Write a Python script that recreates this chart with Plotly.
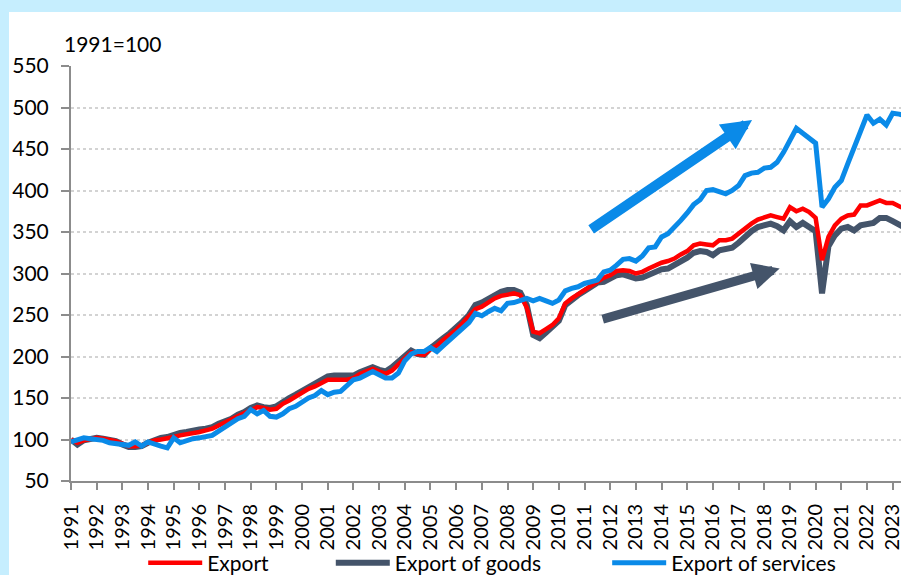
import plotly.graph_objects as go

years = list(range(1991, 2024))
quarters = [f"{y}Q{q}" for y in years for q in range(1, 5)][:131]
year_ticks = [f"{y}Q1" for y in years]
year_labels = [str(y) for y in years]

export = [
    100, 96, 99, 101,    # 1991
    102, 101, 100, 98,   # 1992
    95, 92, 92, 93,      # 1993
    96, 99, 100, 101,    # 1994
    103, 105, 106, 108,  # 1995
    109, 111, 113, 117,  # 1996
    121, 124, 129, 132,  # 1997
    135, 139, 138, 136,  # 1998
    137, 143, 147, 152,  # 1999
    156, 161, 164, 168,  # 2000
    172, 172, 172, 172,  # 2001
    174, 179, 182, 185,  # 2002
    182, 179, 183, 190,  # 2003
    197, 205, 203, 202,  # 2004
    209, 213, 220, 226,  # 2005
    232, 240, 248, 257,  # 2006
    260, 265, 270, 273,  # 2007
    275, 276, 274, 259,  # 2008
    230, 228, 233, 238,  # 2009
    246, 264, 270, 275,  # 2010
    280, 285, 289, 295,  # 2011
    298, 303, 304, 303,  # 2012
    300, 302, 306, 310,  # 2013
    313, 315, 318, 323,  # 2014
    327, 334, 336, 335,  # 2015
    334, 340, 340, 342,  # 2016
    348, 355, 360, 365,  # 2017
    368, 370, 368, 366,  # 2018
    380, 375, 378, 374,  # 2019
    367, 316, 344, 358,  # 2020
    366, 370, 371, 382,  # 2021
    382, 385, 388, 385,  # 2022
    385, 381, 378,       # 2023
]

goods = [
    100, 94, 99, 101,    # 1991
    102, 101, 100, 98,   # 1992
    94, 91, 91, 92,      # 1993
    96, 100, 102, 103,   # 1994
    106, 108, 109, 111,  # 1995
    112, 113, 115, 119,  # 1996
    122, 125, 130, 133,  # 1997
    138, 141, 139, 138,  # 1998
    140, 146, 150, 154,  # 1999
    158, 163, 166, 172,  # 2000
    176, 177, 177, 177,  # 2001
    177, 181, 184, 187,  # 2002
    184, 182, 187, 193,  # 2003
    199, 207, 203, 202,  # 2004
    210, 215, 222, 228,  # 2005
    234, 242, 250, 262,  # 2006
    265, 270, 275, 278,  # 2007
    280, 280, 277, 262,  # 2008
    226, 222, 229, 235,  # 2009
    243, 262, 269, 274,  # 2010
    279, 284, 289, 290,  # 2011
    295, 298, 299, 297,  # 2012
    294, 295, 299, 302,  # 2013
    305, 306, 310, 315,  # 2014
    319, 325, 327, 326,  # 2015
    322, 328, 330, 331,  # 2016
    337, 345, 351, 356,  # 2017
    358, 360, 357, 352,  # 2018
    363, 356, 361, 357,  # 2019
    351, 276, 333, 346,  # 2020
    354, 356, 352, 358,  # 2021
    360, 361, 367, 367,  # 2022
    363, 358, 355,       # 2023
]

services = [
    97, 100, 102, 101,   # 1991
    100, 99, 96, 95,     # 1992
    93, 93, 97, 92,      # 1993
    97, 94, 92, 90,      # 1994
    102, 96, 99, 101,    # 1995
    102, 103, 105, 110,  # 1996
    115, 120, 125, 128,  # 1997
    136, 131, 135, 128,  # 1998
    127, 131, 137, 140,  # 1999
    145, 150, 153, 159,  # 2000
    154, 157, 158, 166,  # 2001
    172, 174, 178, 182,  # 2002
    178, 174, 174, 180,  # 2003
    195, 203, 206, 206,  # 2004
    211, 206, 213, 220,  # 2005
    226, 235, 241, 252,  # 2006
    249, 254, 258, 255,  # 2007
    264, 265, 268, 270,  # 2008
    267, 270, 267, 264,  # 2009
    268, 279, 282, 284,  # 2010
    288, 290, 292, 302,  # 2011
    304, 310, 317, 318,  # 2012
    315, 321, 331, 332,  # 2013
    344, 348, 355, 364,  # 2014
    373, 383, 389, 400,  # 2015
    401, 399, 396, 400,  # 2016
    406, 418, 421, 422,  # 2017
    427, 428, 434, 446,  # 2018
    460, 475, 469, 463,  # 2019
    457, 380, 390, 404,  # 2020
    412, 432, 452, 474,  # 2021
    491, 481, 486, 479,  # 2022
    493, 492, 490,       # 2023
]

names = ["Export", "Export of goods", "Export of services"]
colors = ["#FF0000", "#44546A", "#0A8AE8"]
FONT = "Lato"
FS = 21

fig = go.Figure()
# draw order: goods, export, services
fig.add_trace(go.Scatter(x=quarters, y=goods, name=names[1], mode="lines",
                         line=dict(color=colors[1], width=6), legend="legend2"))
fig.add_trace(go.Scatter(x=quarters, y=export, name=names[0], mode="lines",
                         line=dict(color=colors[0], width=4.5), legend="legend"))
fig.add_trace(go.Scatter(x=quarters, y=services, name=names[2], mode="lines",
                         line=dict(color=colors[2], width=5), legend="legend3"))

leg_common = dict(orientation="h", yanchor="middle", y=-0.198, xanchor="left",
                  bgcolor="rgba(0,0,0,0)", font=dict(family=FONT, size=FS, color="#000"),
                  itemwidth=54, borderwidth=0)
fig.update_layout(
    legend=dict(x=0.087, **leg_common),
    legend2=dict(x=0.313, **leg_common),
    legend3=dict(x=0.646, **leg_common),
)

fig.update_layout(
    width=901, height=575,
    margin=dict(l=71, r=0, t=66, b=94, pad=0, autoexpand=False),
    paper_bgcolor="#C6EEFE",
    plot_bgcolor="white",
    font=dict(family=FONT, size=FS, color="#000"),
    showlegend=True,
    xaxis=dict(type="category", categoryorder="array", categoryarray=quarters,
               range=[0, 129.3], tickmode="array", tickvals=year_ticks, ticktext=year_labels,
               tickangle=-90, ticks="outside", ticklen=7, tickwidth=1.5, tickcolor="#8C8C8C",
               showline=True, linecolor="#8C8C8C", linewidth=2, showgrid=False,
               automargin=False, ticklabelstandoff=6,
               tickfont=dict(family=FONT, size=20, color="#000")),
    yaxis=dict(range=[50, 550], tick0=50, dtick=50, ticks="outside", ticklen=8,
               tickwidth=1.5, tickcolor="#8C8C8C", showline=True, linecolor="#8C8C8C",
               linewidth=2, showgrid=True, gridcolor="#D3D3D3", griddash="dot",
               gridwidth=1.5, zeroline=False, ticklabelstandoff=8, automargin=False,
               tickfont=dict(family=FONT, size=FS, color="#000")),
    shapes=[dict(type="rect", xref="paper", yref="paper", x0=-0.0747, x1=1.01,
                 y0=-0.25, y1=1.130, fillcolor="white", line=dict(width=0), layer="below")],
    annotations=[
        dict(text="1991=100", xref="paper", yref="paper", x=-0.011, y=1.055,
             xanchor="left", yanchor="middle", showarrow=False,
             font=dict(family=FONT, size=FS, color="#000")),
        dict(text="", x=106.1, y=485, xref="x", yref="y", ax=80.8, ay=352,
             axref="x", ayref="y", showarrow=True, arrowhead=2, arrowsize=0.6,
             arrowwidth=10, arrowcolor=colors[2]),
        dict(text="", x=110.4, y=306, xref="x", yref="y", ax=82.6, ay=244.6,
             axref="x", ayref="y", showarrow=True, arrowhead=2, arrowsize=0.6,
             arrowwidth=9, arrowcolor=colors[1]),
    ],
)

fig.write_html("out.html", config={"displayModeBar": False},
               post_script="document.body.style.margin='0';document.body.style.overflow='hidden';")
